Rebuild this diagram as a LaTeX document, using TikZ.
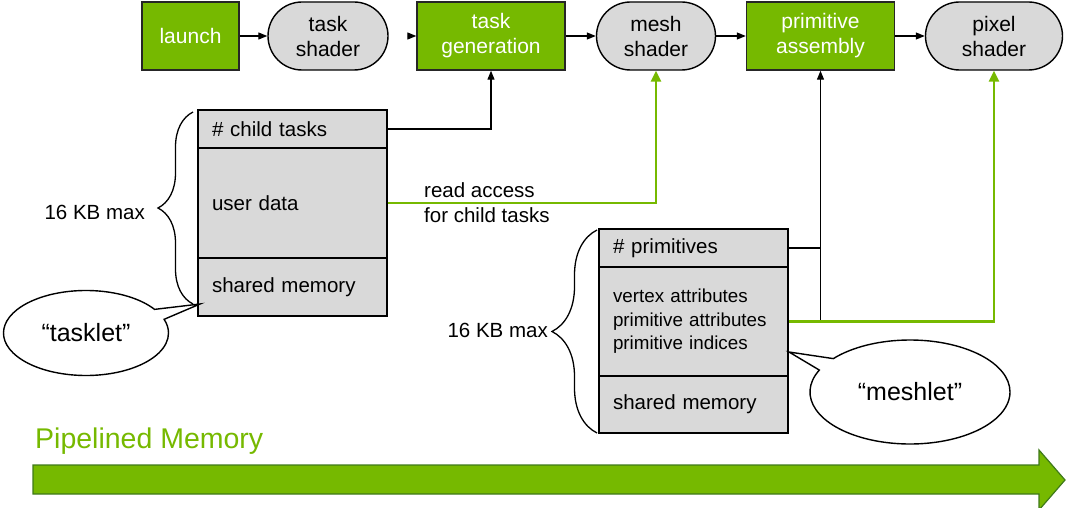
\documentclass[tikz,border=0pt]{standalone}
\usepackage{fontspec}
\setmainfont{Liberation Sans}
\usetikzlibrary{shapes.misc,shapes.callouts,arrows.meta,decorations.pathreplacing}
\definecolor{nvgreen}{HTML}{76B900}
\definecolor{cellgray}{HTML}{D9D9D9}
\definecolor{darkgreen}{HTML}{3F7A1A}
\begin{document}
\begin{tikzpicture}[x=1pt,y=-1pt,
  topfont/.style={font=\fontsize{21}{25}\selectfont},
  gbox/.style={topfont, draw=black!85, fill=nvgreen, line width=1.4pt, minimum height=68pt, text=white, align=center, inner sep=0pt},
  sbox/.style={topfont, rounded rectangle, draw=black, fill=cellgray, line width=1.4pt, minimum height=68pt, align=center, inner sep=0pt},
  cell/.style={draw=black, fill=cellgray, line width=1.2pt, minimum width=189pt, text width=161pt, inner xsep=14pt, inner ysep=0pt, align=left, font=\fontsize{20.5}{24}\selectfont},
  conn/.style={line width=1.2pt, -{Triangle[length=9pt,width=7pt]}},
  gconn/.style={line width=2.6pt, draw=nvgreen, -{Triangle[length=11pt,width=10pt]}},
  thinline/.style={line width=1.2pt},
  bracestyle/.style={line width=1.3pt, decorate},
  lbl/.style={inner sep=0pt, font=\fontsize{20.5}{25}\selectfont},
  bubble/.style={ellipse callout, draw=black, fill=white, line width=1.4pt, inner sep=0pt, font=\fontsize{25}{28}\selectfont}
]
\useasboundingbox (0,0) rectangle (1066,508);

% top row
\node[gbox, minimum width=97pt] (ls) at (190.5,36) {launch};
\node[sbox, minimum width=120pt] (ts) at (328,36) {task\\shader};
\node[gbox, minimum width=148pt] (tg) at (491,36) {task\\generation};
\node[sbox, minimum width=119pt] (ms) at (656,36) {mesh\\shader};
\node[gbox, minimum width=148pt] (pa) at (820.5,36) {primitive\\assembly};
\node[sbox, minimum width=137pt] (ps) at (994,36) {pixel\\shader};

\draw[conn] (ls.east) -- (ts.west);
\draw[conn, shorten <=19pt] (ts.east) -- (tg.west);
\draw[conn] (tg.east) -- (ms.west);
\draw[conn] (ms.east) -- (pa.west);
\draw[conn] (pa.east) -- (ps.west);

% left memory block
\node[cell, minimum height=38pt] (ct) at (292.5,129) {\# child tasks};
\node[cell, minimum height=110pt] (ud) at (292.5,203) {user data};
\node[cell, minimum height=58pt] (sm1) at (292.5,287) {shared memory};

% right memory block
\node[cell, minimum height=38pt] (np) at (693.5,248) {\# primitives};
\node[cell, minimum height=109pt, font=\fontsize{18.8}{23.5}\selectfont] (va) at (693.5,321.5) {vertex attributes\\primitive attributes\\primitive indices};
\node[cell, minimum height=57pt] (sm2) at (693.5,404.5) {shared memory};

% braces
\draw[bracestyle, decoration={brace, amplitude=35pt}] (193,304) -- (193,112);
\node[lbl, anchor=east] (kb1) at (145,212) {16 KB max};
\draw[bracestyle, decoration={brace, amplitude=45pt}] (597,433) -- (597,230);
\node[lbl, anchor=east] (kb2) at (548,330) {16 KB max};

% connectors from memory
\draw[conn] (ct.east) -| (tg.south);
\draw[gconn] (ud.east) -| (ms.south);
\node[lbl, anchor=west, align=left] (ra) at (424,203) {read access\\for child tasks};
\draw[conn] (np.east) -| (pa.south);
\draw[thinline] (pa.south |- np.east) -- (pa.south |- va.east);
\draw[gconn] (va.east) -| (ps.south);

% callouts
\node[bubble, minimum width=165pt, minimum height=85pt, callout absolute pointer={(200,304)}] (tasklet) at (86,333) {“tasklet”};
\node[bubble, minimum width=200pt, minimum height=104pt, callout absolute pointer={(789,352)}] (meshlet) at (910,392) {“meshlet”};

% pipelined memory
\node[anchor=base west, inner sep=0pt, text=nvgreen, font=\fontsize{28.5}{30}\selectfont] (pm) at (35,448) {Pipelined Memory};
\draw[fill=nvgreen, draw=darkgreen, line width=1.2pt] (33,465) -- (1039,465) -- (1039,450) -- (1065,480) -- (1039,510) -- (1039,494) -- (33,494) -- cycle;
\end{tikzpicture}
\end{document}
